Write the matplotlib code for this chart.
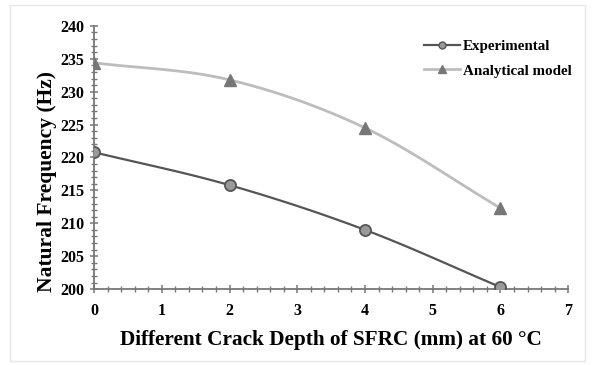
import numpy as np
import matplotlib.pyplot as plt
from matplotlib.patches import Rectangle
from matplotlib.ticker import MultipleLocator

plt.rcParams['font.family'] = ['Liberation Serif', 'DejaVu Serif']
plt.rcParams['font.weight'] = 'bold'

# crack depth (mm) and natural frequency (Hz)
depth = [0, 2, 4, 6]
freq_exp = [220.8, 215.8, 209.0, 200.3]
freq_model = [234.4, 231.8, 224.5, 212.3]
labels = ['Experimental', 'Analytical model']


def smooth(x, y, n=40, t=0.5):
    # Catmull-Rom curve through the points (like a spreadsheet "smoothed line")
    x = np.asarray(x, float)
    y = np.asarray(y, float)
    p = np.column_stack([x, y])
    p = np.vstack([p[0] - (p[1] - p[0]), p, p[-1] + (p[-1] - p[-2])])
    out = []
    for i in range(1, len(p) - 2):
        p0, p1, p2, p3 = p[i - 1], p[i], p[i + 1], p[i + 2]
        m1 = t * (p2 - p0)
        m2 = t * (p3 - p1)
        s = np.linspace(0, 1, n)[:, None]
        h00 = 2 * s**3 - 3 * s**2 + 1
        h10 = s**3 - 2 * s**2 + s
        h01 = -2 * s**3 + 3 * s**2
        h11 = s**3 - s**2
        out.append(h00 * p1 + h10 * m1 + h01 * p2 + h11 * m2)
    c = np.vstack(out)
    return c[:, 0], c[:, 1]


fig = plt.figure(figsize=(5.95, 3.65), dpi=100)
ax = fig.add_axes([0.158, 0.208, 0.797, 0.721])

# faint chart border
fig.patches.append(Rectangle((0.017, 0.01), 0.966, 0.975, transform=fig.transFigure,
                             fill=False, edgecolor='#e6e6e6', lw=1))

xs, ys = smooth(depth, freq_exp)
ax.plot(xs, ys, color='#555555', lw=1.6, zorder=2)
ax.plot(depth, freq_exp, 'o', ms=8, mfc='#999999', mec='#555555', mew=1.3, zorder=3)

xs, ys = smooth(depth, freq_model)
ax.plot(xs, ys, color='#bdbdbd', lw=2, zorder=2)
ax.plot(depth, freq_model, '^', ms=8, mfc='#777777', mec='#777777', zorder=3)

# legend handles
ax.plot([], [], '-o', color='#555555', ms=5, mfc='#999999', mec='#555555', lw=1.6, label=labels[0])
ax.plot([], [], '-^', color='#bdbdbd', ms=6, mfc='#777777', mec='#777777', lw=2, label=labels[1])
ax.legend(loc='upper right', bbox_to_anchor=(1.035, 1.0), frameon=False,
          handlelength=2.4, handletextpad=0.2, labelspacing=0.75,
          prop={'family': 'Liberation Serif', 'weight': 'bold', 'size': 10.8})

ax.set_xlim(0, 7)
ax.set_ylim(200, 240)
ax.xaxis.set_major_locator(MultipleLocator(1))
ax.xaxis.set_minor_locator(MultipleLocator(0.2))
ax.yaxis.set_major_locator(MultipleLocator(5))
ax.yaxis.set_minor_locator(MultipleLocator(1))

for s in ['top', 'right']:
    ax.spines[s].set_visible(False)
for s in ['left', 'bottom']:
    ax.spines[s].set_color('#777777')
    ax.spines[s].set_linewidth(1.3)

ax.tick_params(which='major', direction='inout', length=6, width=1.1, color='#777777',
               labelsize=11.5, pad=4)
ax.tick_params(axis='x', which='major', pad=7)
ax.tick_params(which='minor', direction='inout', length=4, width=1, color='#777777')
for lab in ax.get_xticklabels() + ax.get_yticklabels():
    lab.set_fontweight('bold')

ax.set_xlabel('Different Crack Depth of SFRC (mm) at 60 °C', fontsize=15.3, fontweight='bold', labelpad=8)
ax.set_ylabel('Natural Frequency (Hz)', fontsize=15.5, fontweight='bold')
ax.yaxis.set_label_coords(-0.078, 0.41)

fig.savefig('out.png', dpi=100)
